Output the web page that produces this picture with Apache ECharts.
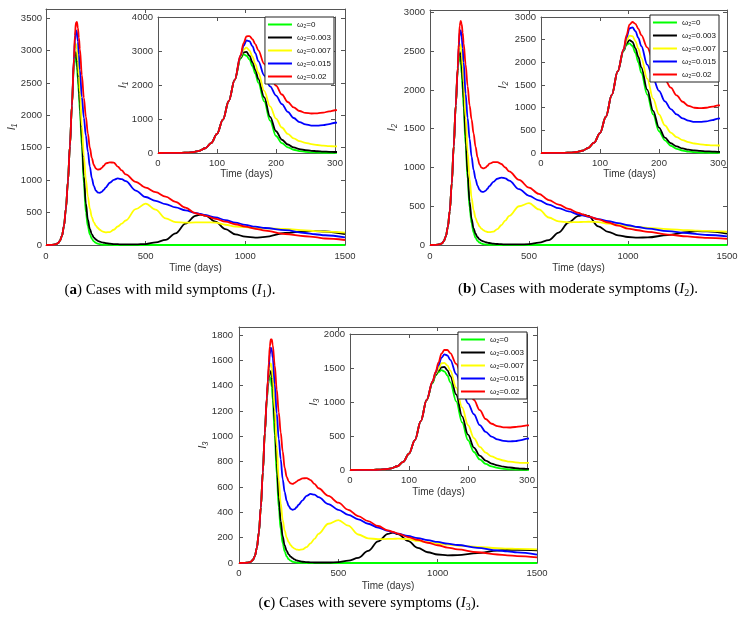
<!DOCTYPE html>
<html><head><meta charset="utf-8">
<script src="https://cdn.jsdelivr.net/npm/echarts@6/dist/echarts.min.js"></script>
<style>html,body{margin:0;padding:0;background:#fff}#c{width:743px;height:623px}</style>
</head><body><div id="c"></div>
<script>
// ---------------- data ----------------
const t = [0,20,40,50,60,70,80,90,100,110,120,130,140,145,150,155,160,165,170,180,190,200,210,220,230,240,250,260,270,280,290,300,320,340,360,380,400,450,500,550,600,650,700,750,775,800,850,900,950,1000,1050,1100,1200,1300,1350,1400,1500];
const seriesNames = ['ω₂=0','ω₂=0.003','ω₂=0.007','ω₂=0.015','ω₂=0.02'];
const seriesColors = ['#00ff00','#000000','#ffff00','#0000ff','#ff0000'];
const xTicksMain = [0,500,1000,1500];
const xTicksInset = [0,100,200,300];

// (a) I1 : shared rise (t 0..130), then each curve
const riseI1 = [0,1,5,12,28,65,140,290,560,980,1530,2150];
const I1_w0    = riseI1.concat([2780,2900,2860,2750,2560,2330,2070,1520,950,500,290,165,95,56,33,20,12,7,4,2, 1,0,0,0,0,0,0,0,0,0,0,0,0,0,0,0,0,0,0,0,0,0,0,0,0]);
const I1_w003  = riseI1.concat([2800,2960,2975,2860,2670,2440,2180,1640,1060,640,390,250,165,115,85,65,52,42,35,30, 20,15,12,10,9,9,15,40,80,180,330,450,470,455,360,245,165,128,113,125,185,212,215,208,168]);
const I1_w007  = riseI1.concat([2830,3040,3100,3020,2840,2610,2360,1830,1370,1010,750,560,430,350,300,262,235,215,202,195, 200,235,285,330,378,552,638,545,412,352,345,348,350,350,345,312,285,275,265,258,248,225,215,205,192]);
const I1_w015  = riseI1.concat([2860,3150,3310,3290,3140,2940,2700,2280,1960,1690,1440,1210,1030,910,840,808,805,820,850,890, 960,1005,1027,1015,985,840,740,680,630,580,535,495,478,460,425,385,345,310,282,262,228,185,166,150,119]);
const I1_w02   = riseI1.concat([2880,3230,3430,3440,3350,3200,3020,2620,2270,1980,1720,1500,1340,1235,1180,1162,1168,1190,1222,1258, 1275,1270,1210,1150,1090,975,885,815,745,665,575,490,470,450,405,360,320,283,250,222,170,135,120,100,77]);

// (b) I2
const riseI2 = [0,1,4,10,22,50,110,230,440,800,1280,1800];
const I2_w0    = riseI2.concat([2250,2390,2420,2360,2210,2000,1770,1290,850,480,280,160,92,54,32,19,11,7,4,2, 1,0,0,0,0,0,0,0,0,0,0,0,0,0,0,0,0,0,0,0,0,0,0,0,0]);
const I2_w003  = riseI2.concat([2260,2420,2490,2450,2310,2120,1890,1400,930,560,340,215,145,100,73,57,46,38,31,26, 18,13,10,8,7,7,11,30,62,160,290,375,390,375,240,170,125,103,95,98,128,165,178,175,148]);
const I2_w007  = riseI2.concat([2270,2470,2590,2580,2470,2300,2100,1640,1200,850,610,450,350,285,240,210,190,176,168,165, 172,205,255,315,375,500,540,460,355,305,293,296,298,300,296,275,258,245,232,222,205,192,186,181,171]);
const I2_w015  = riseI2.concat([2280,2550,2750,2770,2690,2540,2360,1950,1640,1370,1140,970,850,765,712,688,685,698,725,760, 815,855,870,860,830,720,635,575,520,475,433,396,380,364,335,308,282,255,232,212,180,152,140,129,110]);
const I2_w02   = riseI2.concat([2290,2600,2830,2890,2850,2740,2600,2330,2050,1800,1620,1440,1270,1130,1040,998,988,998,1022,1050, 1068,1070,1045,1000,950,840,740,660,580,520,465,415,392,370,330,290,250,212,190,170,135,110,100,92,78]);

// (c) I3
const riseI3 = [0,0.5,2,5,11,24,55,120,240,440,720,1030];
const I3_w0    = riseI3.concat([1280,1390,1440,1470,1450,1390,1290,1010,700,440,265,155,90,52,30,18,10,6,3,2, 1,0,0,0,0,0,0,0,0,0,0,0,0,0,0,0,0,0,0,0,0,0,0,0,0]);
const I3_w003  = riseI3.concat([1290,1400,1460,1510,1515,1470,1380,1110,790,520,330,210,138,95,68,50,38,28,21,16, 10,7,5,4,4,4,7,18,40,95,170,230,240,228,175,120,85,67,60,62,78,98,103,103,100]);
const I3_w007  = riseI3.concat([1295,1410,1480,1570,1575,1540,1460,1210,920,660,470,340,255,200,165,140,124,113,106,104, 108,125,155,190,230,310,338,295,225,195,188,190,191,192,188,175,163,153,145,138,127,118,114,111,108]);
const I3_w015  = riseI3.concat([1300,1430,1540,1650,1700,1685,1620,1410,1180,980,820,660,560,490,450,428,420,425,440,460, 495,530,545,540,520,465,420,380,345,310,280,253,242,232,213,196,180,166,153,142,120,100,92,84,66]);
const I3_w02   = riseI3.concat([1305,1440,1580,1710,1765,1765,1720,1560,1370,1190,1030,880,750,680,645,628,625,632,643,655, 668,670,655,625,590,530,476,420,370,330,292,258,245,232,205,182,160,140,122,108,85,67,60,55,45]);

// ---------------- chart ----------------
const AX = '#555', TX = '#333', FF = 'Liberation Sans, Arial, sans-serif';
const grids = [], xAxes = [], yAxes = [], series = [], legends = [], graphics = [];

function axis(o) {
  const base = {
    type: 'value', splitLine: {show: false},
    axisLine: {show: true, onZero: false, lineStyle: {color: AX, width: 1}},
    axisTick: {show: true, inside: true, length: 4, lineStyle: {color: AX}},
    axisLabel: {show: true, color: TX, fontSize: 9.5, fontFamily: FF, margin: 5},
    nameTextStyle: {color: TX, fontSize: 10, fontFamily: FF}
  };
  for (const k in o) {
    if (base[k] && typeof base[k] === 'object' && typeof o[k] === 'object') base[k] = Object.assign({}, base[k], o[k]);
    else base[k] = o[k];
  }
  return base;
}

function addPlot(c) {
  const g = grids.length;
  grids.push({left: c.rect[0], top: c.rect[1], width: c.rect[2], height: c.rect[3],
              show: !!c.inset, backgroundColor: '#fff', borderWidth: 0, z: c.inset ? 5 : 0});
  const xb = xAxes.length;
  const xTicks = c.inset ? xTicksInset : xTicksMain;
  xAxes.push(axis({gridIndex: g, position: 'bottom', min: 0, max: c.xmax, interval: c.xint,
    name: 'Time (days)', nameLocation: 'middle', nameGap: c.xGap,
    axisLabel: {margin: c.xMargin, formatter: v => (xTicks.indexOf(v) >= 0 ? String(v) : '')},
    z: c.inset ? 6 : 0}));
  xAxes.push(axis({gridIndex: g, position: 'top', min: 0, max: c.xmax, interval: c.xint,
    axisLabel: {show: false}, z: c.inset ? 6 : 0}));
  const yb = yAxes.length;
  yAxes.push(axis({gridIndex: g, position: 'left', min: 0, max: c.ymax, interval: c.yint,
    name: c.yname, nameLocation: 'middle', nameGap: c.yGap,
    nameTextStyle: {fontStyle: 'italic', fontSize: 11},
    axisLabel: {margin: c.yMargin, formatter: v => (Math.abs(v % c.yint) < 1e-6 ? String(v) : '')},
    z: c.inset ? 6 : 0}));
  yAxes.push(axis({gridIndex: g, position: 'right', min: 0, max: c.ymax, interval: c.yint,
    axisLabel: {show: false}, z: c.inset ? 6 : 0}));
  c.data.forEach((arr, i) => {
    series.push({
      type: 'line', name: seriesNames[i], xAxisIndex: xb, yAxisIndex: yb,
      data: t.map((x, k) => [x, arr[k]]),
      showSymbol: false, symbol: 'none', smooth: 0.35, smoothMonotone: 'x', clip: true,
      lineStyle: {color: seriesColors[i], width: 1.8}, itemStyle: {color: seriesColors[i]},
      z: c.inset ? 7 : 2, animation: false
    });
  });
}

function addLegend(right, top) {
  legends.push({
    data: seriesNames, orient: 'vertical', right: right, top: top,
    icon: 'rect', itemWidth: 24, itemHeight: 2, itemGap: 4,
    padding: [3, 3, 3, 3], backgroundColor: '#fff', borderColor: '#222', borderWidth: 1,
    selectedMode: false, z: 10,
    textStyle: {fontSize: 8, fontFamily: FF, color: '#111', lineHeight: 9}
  });
}

function caption(x, y, letter, text, sub) {
  graphics.push({
    type: 'text', x: x, y: y, z: 20,
    style: {
      text: '{n|(}{b|' + letter + '}{n|) ' + text + ' (}{i|I}{s|' + sub + '}{n|).}',
      align: 'center', verticalAlign: 'middle',
      rich: {
        n: {fontFamily: 'Liberation Serif, serif', fontSize: 15, fill: '#000', lineHeight: 18},
        b: {fontFamily: 'Liberation Serif, serif', fontSize: 15, fontWeight: 'bold', fill: '#000', lineHeight: 18},
        i: {fontFamily: 'Liberation Serif, serif', fontSize: 15, fontStyle: 'italic', fill: '#000', lineHeight: 18},
        s: {fontFamily: 'Liberation Serif, serif', fontSize: 10, fill: '#000', lineHeight: 18, verticalAlign: 'bottom', padding: [0, 0, 0, 0]}
      }
    }
  });
}

// panel (a)
addPlot({rect: [46, 9, 299, 236], xmax: 1500, xint: 500, ymax: 3640, yint: 500, yname: 'I₁',
  yGap: 29, yMargin: 4, xGap: 18, xMargin: 6, data: [I1_w0, I1_w003, I1_w007, I1_w015, I1_w02]});
addPlot({rect: [158, 17, 177, 136], xmax: 300, xint: 100, ymax: 4000, yint: 1000, yname: 'I₁', inset: true,
  yGap: 30, yMargin: 5, xGap: 16, xMargin: 5, data: [I1_w0, I1_w003, I1_w007, I1_w015, I1_w02]});
addLegend(743 - 334, 17);
// panel (b)
addPlot({rect: [430, 10, 297, 235], xmax: 1500, xint: 500, ymax: 3032, yint: 500, yname: 'I₂',
  yGap: 33, yMargin: 5, xGap: 18, xMargin: 6, data: [I2_w0, I2_w003, I2_w007, I2_w015, I2_w02]});
addPlot({rect: [541, 17, 177, 136], xmax: 300, xint: 100, ymax: 3000, yint: 500, yname: 'I₂', inset: true,
  yGap: 33, yMargin: 5, xGap: 16, xMargin: 5, data: [I2_w0, I2_w003, I2_w007, I2_w015, I2_w02]});
addLegend(743 - 719, 15);
// panel (c)
addPlot({rect: [239, 327, 298, 236], xmax: 1500, xint: 500, ymax: 1863, yint: 200, yname: 'I₃',
  yGap: 31, yMargin: 6, xGap: 18, xMargin: 5, data: [I3_w0, I3_w003, I3_w007, I3_w015, I3_w02]});
addPlot({rect: [350, 334, 177, 136], xmax: 300, xint: 100, ymax: 2000, yint: 500, yname: 'I₃', inset: true,
  yGap: 31, yMargin: 5, xGap: 17, xMargin: 5, data: [I3_w0, I3_w003, I3_w007, I3_w015, I3_w02]});
addLegend(743 - 527, 332);

caption(170, 290, 'a', 'Cases with mild symptoms', '1');
caption(578, 289, 'b', 'Cases with moderate symptoms', '2');
caption(369, 603, 'c', 'Cases with severe symptoms', '3');

const chart = echarts.init(document.getElementById('c'), null, {renderer: 'canvas', width: 743, height: 623});
chart.setOption({
  animation: false, backgroundColor: '#fff',
  grid: grids, xAxis: xAxes, yAxis: yAxes, series: series, legend: legends, graphic: graphics
});
</script></body></html>
